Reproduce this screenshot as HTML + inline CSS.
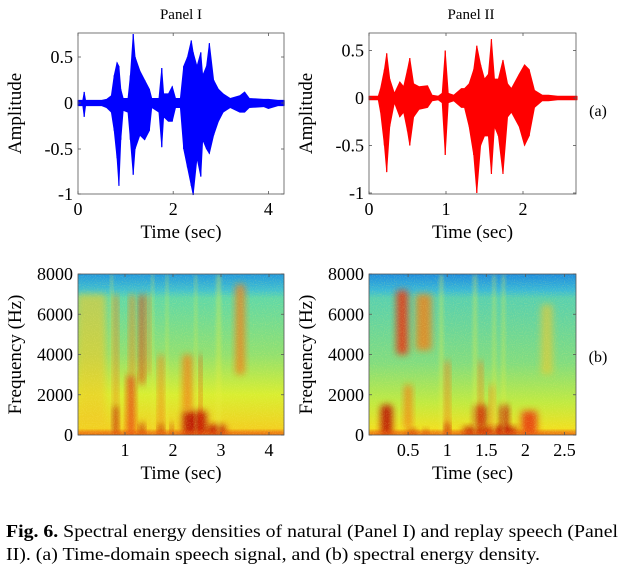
<!DOCTYPE html>
<html><head><meta charset="utf-8"><style>
body{margin:0;background:#fff}
svg{display:block;font-family:"Liberation Serif",serif}
</style></head><body>
<svg id="fig" width="622" height="577" viewBox="0 0 622 577" xmlns="http://www.w3.org/2000/svg">
<defs>
<filter id="blur" x="-50%" y="-50%" width="200%" height="200%"><feGaussianBlur stdDeviation="3.5"/></filter>
<filter id="blur2" x="-50%" y="-50%" width="200%" height="200%"><feGaussianBlur stdDeviation="1.5"/></filter>
<filter id="noise" x="0" y="0" width="100%" height="100%"><feTurbulence type="fractalNoise" baseFrequency="0.9" numOctaves="1" seed="3"/><feColorMatrix values="0 0 0 0 1  0 0 0 0 0.9  0 0 0 0 0.2  0 0 0 1.2 -0.55"/><feComposite in2="SourceGraphic" operator="in"/></filter>
<linearGradient id="bgL" x1="0" y1="1" x2="0" y2="0">
<stop offset="0" stop-color="#f08a10"/><stop offset="0.04" stop-color="#f2d020"/><stop offset="0.25" stop-color="#d8ee30"/><stop offset="0.5" stop-color="#90e070"/><stop offset="0.85" stop-color="#60d8a8"/><stop offset="0.9" stop-color="#40c0d0"/><stop offset="1" stop-color="#2098e0"/></linearGradient>
<linearGradient id="bgR" x1="0" y1="1" x2="0" y2="0">
<stop offset="0" stop-color="#f09010"/><stop offset="0.04" stop-color="#f0e020"/><stop offset="0.2" stop-color="#c0ea40"/><stop offset="0.45" stop-color="#80dc80"/><stop offset="0.85" stop-color="#58d0b0"/><stop offset="0.9" stop-color="#38b8d8"/><stop offset="1" stop-color="#1c8ce0"/></linearGradient>
<clipPath id="clipL"><rect x="78" y="274" width="206" height="161"/></clipPath>
<clipPath id="clipR"><rect x="369" y="274" width="207" height="161"/></clipPath>
</defs>
<text x="181" y="19" font-size="15" text-anchor="middle">Panel I</text>
<text x="471" y="19" font-size="15" text-anchor="middle">Panel II</text>
<text x="598" y="116" font-size="16" text-anchor="middle">(a)</text>
<text x="598" y="362" font-size="16" text-anchor="middle">(b)</text>
<g id="layer"></g>
<text y="537" font-size="18" textLength="612" lengthAdjust="spacingAndGlyphs" x="6"><tspan font-weight="bold">Fig. 6.</tspan> Spectral energy densities of natural (Panel I) and replay speech (Panel</text>
<text x="6" y="560" font-size="18" textLength="534" lengthAdjust="spacingAndGlyphs">II). (a) Time-domain speech signal, and (b) spectral energy density.</text>
</svg>
<script>
// ---- Data ----
const tlTimes=[0,0.1,0.13,0.16,0.5,0.6,0.7,0.76,0.82,0.86,0.9,0.95,1.05,1.1,1.16,1.2,1.3,1.4,1.5,1.55,1.7,1.76,1.8,1.9,1.98,2.05,2.15,2.22,2.3,2.38,2.42,2.5,2.58,2.62,2.7,2.76,2.85,2.95,3.05,3.2,3.4,3.5,3.6,3.9,4.0,4.2,4.33];
const tlUpper=[0.03,0.03,0.12,0.03,0.03,0.04,0.08,0.3,0.44,0.4,0.15,0.05,0.05,0.3,0.75,0.5,0.35,0.25,0.15,0.05,0.05,0.38,0.1,0.1,0.18,0.05,0.05,0.4,0.5,0.68,0.55,0.4,0.55,0.3,0.4,0.65,0.25,0.15,0.1,0.05,0.08,0.12,0.05,0.04,0.04,0.03,0.03];
const tlLower=[-0.03,-0.03,-0.15,-0.03,-0.03,-0.05,-0.1,-0.3,-0.6,-0.9,-0.4,-0.08,-0.1,-0.4,-0.78,-0.5,-0.35,-0.4,-0.3,-0.05,-0.1,-0.48,-0.15,-0.2,-0.2,-0.05,-0.05,-0.5,-0.7,-0.9,-1.0,-0.6,-0.8,-0.4,-0.5,-0.55,-0.35,-0.2,-0.1,-0.05,-0.1,-0.1,-0.05,-0.04,-0.06,-0.03,-0.03];
const trTimes=[0,0.12,0.15,0.2,0.23,0.27,0.33,0.4,0.45,0.5,0.53,0.58,0.65,0.76,0.82,0.9,0.95,0.99,1.03,1.1,1.2,1.24,1.3,1.36,1.4,1.45,1.5,1.55,1.59,1.63,1.68,1.74,1.8,1.85,1.95,2.02,2.08,2.15,2.25,2.33,2.45,2.7];
const trUpper=[0.02,0.02,0.1,0.3,0.47,0.2,0.05,0.17,0.12,0.3,0.42,0.15,0.12,0.13,0.03,0.02,0.05,0.5,0.05,0.03,0.1,0.1,0.15,0.3,0.55,0.35,0.2,0.25,0.62,0.2,0.2,0.4,0.15,0.1,0.25,0.35,0.3,0.08,0.03,0.03,0.02,0.02];
const trLower=[-0.02,-0.02,-0.15,-0.5,-0.78,-0.3,-0.05,-0.2,-0.15,-0.35,-0.5,-0.2,-0.12,-0.1,-0.03,-0.02,-0.05,-0.6,-0.05,-0.03,-0.1,-0.1,-0.3,-0.6,-1.0,-0.5,-0.4,-0.4,-0.8,-0.3,-0.4,-0.8,-0.2,-0.15,-0.3,-0.5,-0.4,-0.1,-0.03,-0.03,-0.02,-0.02];
// spectrogram energy regions: t0,t1,f0,f1,level (0..4)
const blT0=[0,0.75,0.76,1.05,1.1,1.3,1.3,1.45,1.7,1.7,1.95,2.2,2.2,2.55,2.7,3.3,0.7,1.55,1.85,2.45,2.9];
const blT1=[0.6,0.85,0.85,1.2,1.2,1.4,1.4,1.52,1.8,1.8,2.0,2.7,2.4,2.6,3.1,3.5,0.75,1.6,1.9,2.5,3.0];
const blF0=[500,0,1500,0,3000,2500,0,3000,0,600,0,0,1200,0,0,3000,0,0,0,0,0];
const blF1=[7000,1500,7000,3000,7000,7000,600,7000,600,4000,600,1200,4000,4000,500,7500,8000,8000,8000,8000,8000];
const blLvl=[1,4,2,3,2,3,4,2,4,2,4,4,2,3,4,2,0,0,0,0,0];
const brT0=[0.15,0.35,0.5,0.45,0.6,0.7,0.97,0.97,1.2,1.35,1.4,1.55,1.68,1.95,2.2,1.33,1.58,1.7,0.9];
const brT1=[0.3,0.5,0.6,0.55,0.8,0.75,1.03,1.03,1.9,1.5,1.45,1.6,1.78,2.15,2.35,1.38,1.62,1.74,0.95];
const brF0=[0,4000,0,300,4200,0,0,0,0,400,400,0,0,0,3000,0,0,0,0];
const brF1=[1500,7200,300,2500,7000,300,3700,600,400,1500,3700,2500,1500,1200,6500,8000,8000,8000,8000];
const brLvl=[4,3,4,2,2,4,2,4,4,4,2,2,4,3,1,0,0,0,0];

// ---- Scales ----
const tlX=t=>78+t*47.6, tlY=a=>103-a*92;
const trX=t=>369+t*77, trY=a=>98-a*95;
const blX=t=>77+t*48, brX=t=>369+t*78.2;
const sY=f=>435-f/8000*161;
const lvlColor=['#e8f040','#f2c828','#f08018','#e83010','#b80000'];
const lvlOpacity=[0.35,0.6,0.8,0.85,0.85];

const NS='http://www.w3.org/2000/svg';
const layer=document.getElementById('layer');
function mk(tag,attrs,parent){const e=document.createElementNS(NS,tag);for(const k in attrs)e.setAttribute(k,attrs[k]);(parent||layer).appendChild(e);return e;}

function spectro(xf,t0,t1,f0,f1,lv,clip,bg,x0,w,name){
  const g=mk('g',{'clip-path':'url(#'+clip+')'});
  
  
  mk('rect',{x:x0,y:274,width:w,height:161,fill:'url(#'+bg+')'},g);
  for(let i=0;i<t0.length;i++){
    const r=mk('rect',{x:xf(t0[i]),y:sY(f1[i]),width:Math.max(2,xf(t1[i])-xf(t0[i])),height:sY(f0[i])-sY(f1[i]),rx:3,fill:lvlColor[lv[i]],opacity:lvlOpacity[lv[i]],filter:lv[i]==0?'url(#blur2)':'url(#blur)'},g);
    
    
  }
  mk('rect',{x:x0,y:431,width:w,height:4,fill:'#e85010',opacity:0.5,filter:'url(#blur2)'},g);
  mk('rect',{x:x0,y:274,width:w,height:161,fill:'#000',filter:'url(#noise)',opacity:0.5},g);
}
spectro(blX,blT0,blT1,blF0,blF1,blLvl,'clipL','bgL',78,206,'spectrogram-panel-i');
spectro(brX,brT0,brT1,brF0,brF1,brLvl,'clipR','bgR',369,207,'spectrogram-panel-ii');

function wave(xf,yf,T,U,L,color,name){
  let d='M'+xf(T[0])+','+yf(U[0]);
  for(let i=1;i<T.length;i++)d+=' L'+xf(T[i])+','+yf(U[i]);
  for(let i=T.length-1;i>=0;i--)d+=' L'+xf(T[i])+','+yf(L[i]);
  const p=mk('path',{d:d+'Z',fill:color,stroke:color,'stroke-width':0.8});
  
  
  for(let i=0;i<T.length;i++){
    const l=mk('line',{x1:xf(T[i]),x2:xf(T[i]),y1:yf(U[i]),y2:yf(L[i]),stroke:color,'stroke-width':1.2});
    
    
  }
}
wave(tlX,tlY,tlTimes,tlUpper,tlLower,'#0000ff','waveform-panel-i');
wave(trX,trY,trTimes,trUpper,trLower,'#ff0000','waveform-panel-ii');

function axes(x0,y0,x1,y1,xt,xl,xf,yt,yl,yf,ylabel,name){
  const g=mk('g',{});
  
  
  mk('rect',{x:x0,y:y0,width:x1-x0,height:y1-y0,fill:'none',stroke:'#555','stroke-width':0.8},g);
  xt.forEach((v,i)=>{const x=xf(v);
    mk('line',{x1:x,x2:x,y1:y1,y2:y1-3,stroke:'#555','stroke-width':0.8},g);
    mk('line',{x1:x,x2:x,y1:y0,y2:y0+3,stroke:'#555','stroke-width':0.8},g);
    const t=mk('text',{x:x,y:y1+21,'font-size':18,'text-anchor':'middle'},g);t.textContent=xl[i];
    
    });
  yt.forEach((v,i)=>{const y=yf(v);
    mk('line',{x1:x0,x2:x0+3,y1:y,y2:y,stroke:'#555','stroke-width':0.8},g);
    mk('line',{x1:x1,x2:x1-3,y1:y,y2:y,stroke:'#555','stroke-width':0.8},g);
    const t=mk('text',{x:x0-5,y:y+6,'font-size':18,'text-anchor':'end'},g);t.textContent=yl[i];
    
    });
  const xt2=mk('text',{x:(x0+x1)/2,y:y1+44,'font-size':19,'text-anchor':'middle'},g);xt2.textContent='Time (sec)';
  
  
  const yc=(y0+y1)/2, xx=x0-57;
  const ya=mk('text',{x:xx,y:yc,'font-size':19,'text-anchor':'middle',transform:'rotate(-90 '+xx+' '+yc+')'},g);ya.textContent=ylabel;
  
  
}
const ampTicks=[-1,-0.5,0,0.5], ampLabels=['-1','-0.5','0','0.5'];
const fTicks=[0,2000,4000,6000,8000], fLabels=['0','2000','4000','6000','8000'];
axes(78,33,284,194,[0,2,4],['0','2','4'],tlX,ampTicks,ampLabels,a=>a==-1?194:tlY(a),'Amplitude','axes-panel-i-time');
axes(369,33,576,194,[0,1,2],['0','1','2'],trX,ampTicks,ampLabels,trY,'Amplitude','axes-panel-ii-time');
axes(78,274,284,435,[1,2,3,4],['1','2','3','4'],blX,fTicks,fLabels,sY,'Frequency (Hz)','axes-panel-i-spectrogram');
axes(369,274,576,435,[0.5,1,1.5,2,2.5],['0.5','1','1.5','2','2.5'],brX,fTicks,fLabels,sY,'Frequency (Hz)','axes-panel-ii-spectrogram');
</script>
</body></html>
